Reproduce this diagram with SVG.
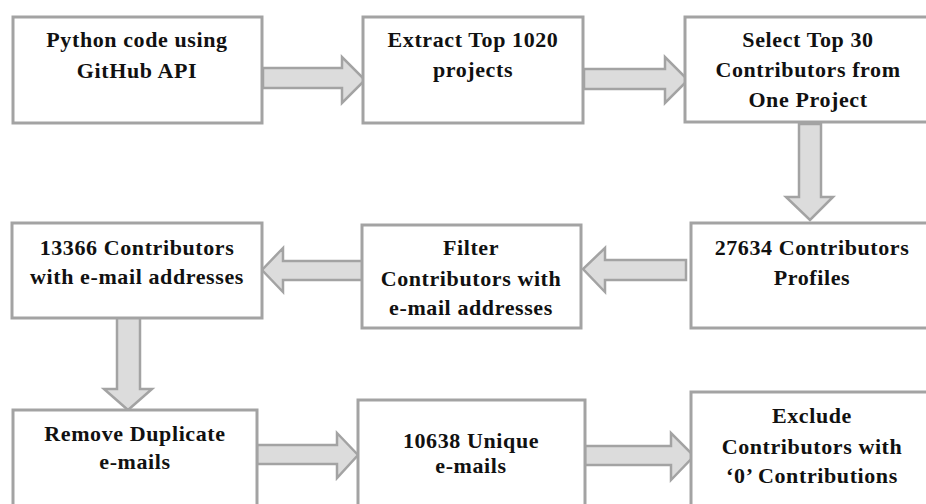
<svg xmlns="http://www.w3.org/2000/svg" width="926" height="504" viewBox="0 0 926 504">
<style>
.box{fill:#ffffff;stroke:#a3a3a3;stroke-width:3}
.arr{fill:#dcdcdc;stroke:#a3a3a3;stroke-width:2.5;stroke-linejoin:miter}
text{font-family:"Liberation Serif","Times New Roman",serif;font-weight:bold;font-size:22px;fill:#111111;text-anchor:middle;letter-spacing:0.6px}
</style>
<rect width="926" height="504" fill="#ffffff"/>
<g id="connectors">
<polygon class="arr" points="263,68 342,68 342,57 365,80 342,103 342,88 263,88"/>
<polygon class="arr" points="584,69 665,69 665,57 688,80 665,103 665,89 584,89"/>
<polygon class="arr" points="799,124 821,124 821,197 833,197 810,220 786,197 799,197"/>
<polygon class="arr" points="686,260 605,260 605,248 583,269 605,292 605,280 686,280"/>
<polygon class="arr" points="363,261 283,261 283,248 262,270 283,292 283,280 363,280"/>
<polygon class="arr" points="117,316 140,316 140,389 152,389 128,410 104,389 117,389"/>
<polygon class="arr" points="257,445 337,445 337,433 358,455 337,478 337,464 257,464"/>
<polygon class="arr" points="585,446 671,446 671,433 694,456 671,480 671,465 585,465"/>
</g>
<g id="n1"><rect class="box" x="13" y="17" width="249" height="106"/>
<text x="137" y="47">Python code using</text><text x="137" y="78">GitHub API</text></g>
<g id="n2"><rect class="box" x="363" y="17" width="220" height="106"/>
<text x="473" y="47">Extract Top 1020</text><text x="473" y="77">projects</text></g>
<g id="n3"><rect class="box" x="685" y="17" width="246" height="105"/>
<text x="808" y="47">Select Top 30</text><text x="808" y="77">Contributors from</text><text x="808" y="107">One Project</text></g>
<g id="n4"><rect class="box" x="12" y="223" width="250" height="95"/>
<text x="137" y="255">13366 Contributors</text><text x="137" y="284">with e-mail addresses</text></g>
<g id="n5"><rect class="box" x="362" y="225" width="219" height="103"/>
<text x="471" y="255">Filter</text><text x="471" y="286">Contributors with</text><text x="471" y="315">e-mail addresses</text></g>
<g id="n6"><rect class="box" x="691" y="223" width="242" height="105"/>
<text x="812" y="255">27634 Contributors</text><text x="812" y="285">Profiles</text></g>
<g id="n7"><rect class="box" x="13" y="410" width="244" height="100"/>
<text x="135" y="441">Remove Duplicate</text><text x="135" y="469">e-mails</text></g>
<g id="n8"><rect class="box" x="358" y="400" width="227" height="110"/>
<text x="471" y="448">10638 Unique</text><text x="471" y="473">e-mails</text></g>
<g id="n9"><rect class="box" x="691" y="392" width="242" height="120"/>
<text x="812" y="423">Exclude</text><text x="812" y="454">Contributors with</text><text x="812" y="483">‘0’ Contributions</text></g>
</svg>
